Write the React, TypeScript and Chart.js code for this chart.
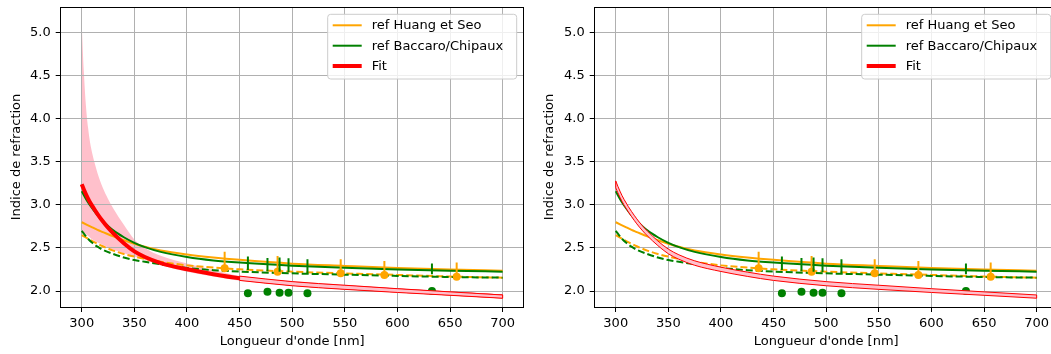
import React, { useEffect, useRef } from 'react';
import { Chart, registerables } from 'chart.js';

Chart.register(...registerables);

// ---------- axes ----------
const X_TICKS = [300, 350, 400, 450, 500, 550, 600, 650, 700];
const Y_TICKS = [2.0, 2.5, 3.0, 3.5, 4.0, 4.5, 5.0];
const X_MIN = 280;
const X_MAX = 720;
const Y_MIN = 1.814;
const Y_MAX = 5.302;

// ---------- reference curves ----------
const REF_X = [300, 305, 310, 315, 320, 330, 340, 350, 360, 375, 400, 425, 450, 500, 550, 600, 650, 700];
const HUANG_SOLID = [2.80, 2.77, 2.74, 2.71, 2.685, 2.635, 2.59, 2.55, 2.515, 2.472, 2.425, 2.39, 2.362, 2.318, 2.292, 2.268, 2.25, 2.236];
const HUANG_DASHED = [2.65, 2.615, 2.58, 2.55, 2.52, 2.47, 2.43, 2.40, 2.375, 2.34, 2.298, 2.272, 2.252, 2.225, 2.205, 2.187, 2.168, 2.155];
const BACCARO_SOLID = [3.16, 3.05, 2.96, 2.88, 2.815, 2.705, 2.625, 2.56, 2.51, 2.455, 2.395, 2.355, 2.33, 2.295, 2.27, 2.25, 2.236, 2.225];
const BACCARO_DASHED = [2.70, 2.62, 2.56, 2.515, 2.48, 2.43, 2.39, 2.36, 2.34, 2.31, 2.268, 2.242, 2.226, 2.205, 2.19, 2.175, 2.163, 2.155];

// ---------- fit ----------
const FIT_X = [300, 302, 304, 306, 308, 310, 312, 315, 320, 325, 330, 340, 350, 360, 375, 400, 425, 450, 500, 550, 600, 650, 700];
const FIT_N = [3.24, 3.18, 3.125, 3.075, 3.03, 2.99, 2.95, 2.895, 2.81, 2.735, 2.67, 2.555, 2.46, 2.395, 2.325, 2.252, 2.195, 2.148, 2.085, 2.043, 2.005, 1.97, 1.935];
const WIDE_HI = [5.10, 4.55, 4.15, 3.90, 3.72, 3.60, 3.50, 3.37, 3.20, 3.07, 2.96, 2.77, 2.60, 2.50, 2.41, 2.32, 2.245, 2.175, 2.115, 2.072, 2.032, 1.995, 1.958];
const WIDE_LO = [2.70, 2.68, 2.66, 2.64, 2.62, 2.60, 2.585, 2.565, 2.535, 2.505, 2.48, 2.44, 2.40, 2.36, 2.30, 2.225, 2.168, 2.12, 2.06, 2.018, 1.982, 1.95, 1.917];
const NARROW_HI = [3.28, 3.218, 3.161, 3.109, 3.063, 3.022, 2.981, 2.925, 2.839, 2.763, 2.698, 2.582, 2.487, 2.421, 2.351, 2.277, 2.22, 2.173, 2.109, 2.067, 2.027, 1.99, 1.954];
const NARROW_LO = [3.20, 3.142, 3.089, 3.041, 2.997, 2.958, 2.919, 2.865, 2.781, 2.707, 2.642, 2.528, 2.433, 2.369, 2.299, 2.227, 2.17, 2.123, 2.061, 2.019, 1.983, 1.95, 1.916];
const LEFT_NARROW_FROM = 450;

// ---------- measurements ----------
const HUANG_PT_X = [435.8, 486.1, 546.1, 587.6, 656.3];
const HUANG_PT_N = [2.264, 2.225, 2.205, 2.186, 2.167];
const HUANG_ERR_LO = [2.264, 2.225, 2.205, 2.186, 2.167];
const HUANG_ERR_HI = [2.457, 2.407, 2.369, 2.35, 2.33];

const BACCARO_PT_X = [457.9, 476.5, 488.0, 496.5, 514.5, 632.8];
const BACCARO_PT_N = [1.973, 1.992, 1.98, 1.98, 1.973, 2.0];
const BACCARO_ERR_LO = [2.245, 2.23, 2.225, 2.22, 2.21, 2.195];
const BACCARO_ERR_HI = [2.40, 2.385, 2.39, 2.38, 2.37, 2.32];

const LEGEND_LABELS = ['ref Huang et Seo', 'ref Baccaro/Chipaux', 'Fit'];

// ---------- style ----------
const ORANGE = '#ffa500';
const GREEN = '#008000';
const RED = '#ff0000';
const PINK = '#ffc0cb';
const GRID = '#b0b0b0';
const CLEAR = 'rgba(0,0,0,0)';
const FONT = '"DejaVu Sans", sans-serif';
const LEGEND_COLORS = [ORANGE, GREEN, RED];
const LEGEND_WIDTHS = [2, 2, 4];

Chart.defaults.font.family = FONT;
Chart.defaults.font.size = 13;
Chart.defaults.color = '#000';

const H = 354;
const AREA_TOP = 7;
const AREA_BOTTOM = 307;

const pts = (xs: number[], ys: number[]) => xs.map((x, i) => ({ x, y: ys[i] }));
const bars = (xs: number[], lo: number[], hi: number[]) =>
  xs.flatMap((x, i) => [{ x, y: lo[i] }, { x, y: hi[i] }, { x, y: null as any }]);

const line = (data: any[], color: string, width: number, extra: any = {}) => ({
  type: 'line',
  data,
  borderColor: color,
  backgroundColor: color,
  borderWidth: width,
  pointRadius: 0,
  pointHoverRadius: 0,
  fill: false,
  cubicInterpolationMode: 'monotone',
  spanGaps: false,
  ...extra,
});

const markers = (data: any[], color: string, r: number) => ({
  type: 'line',
  data,
  showLine: false,
  pointRadius: r,
  pointHoverRadius: r,
  pointBackgroundColor: color,
  pointBorderColor: color,
  pointBorderWidth: 0,
  borderColor: color,
  backgroundColor: color,
  fill: false,
});

const alignPx = (p: number) => Math.round(p - 0.5) + 0.5;

const framePlugin = {
  id: 'frameAndLegend',
  afterDatasetDraw(chart: any, args: any) {
    const ds = chart.data.datasets[args.index];
    if (!ds || !ds.gridAfter) return;
    const { ctx, chartArea: a, scales } = chart;
    ctx.save();
    ctx.strokeStyle = GRID;
    ctx.lineWidth = 1;
    ctx.beginPath();
    X_TICKS.forEach((v) => {
      const x = alignPx(scales.x.getPixelForValue(v));
      ctx.moveTo(x, a.top);
      ctx.lineTo(x, a.bottom);
    });
    Y_TICKS.forEach((v) => {
      const y = alignPx(scales.y.getPixelForValue(v));
      ctx.moveTo(a.left, y);
      ctx.lineTo(a.right, y);
    });
    ctx.stroke();
    ctx.restore();
  },
  afterDatasetsDraw(chart: any) {
    const { ctx, chartArea: a } = chart;
    ctx.save();
    ctx.strokeStyle = '#000';
    ctx.lineWidth = 1;
    const l = alignPx(a.left), r = alignPx(a.right), t = alignPx(a.top), b = alignPx(a.bottom);
    ctx.strokeRect(l, t, r - l, b - t);
    ctx.restore();
  },
  afterDraw(chart: any) {
    const { ctx, chartArea: a } = chart;
    const w = 189;
    const h = 64.7;
    const x0 = a.right - 7 - w;
    const y0 = a.top + 7.3;
    const rad = 3;
    ctx.save();
    ctx.beginPath();
    ctx.moveTo(x0 + rad, y0);
    ctx.arcTo(x0 + w, y0, x0 + w, y0 + h, rad);
    ctx.arcTo(x0 + w, y0 + h, x0, y0 + h, rad);
    ctx.arcTo(x0, y0 + h, x0, y0, rad);
    ctx.arcTo(x0, y0, x0 + w, y0, rad);
    ctx.closePath();
    ctx.fillStyle = 'rgba(255,255,255,0.8)';
    ctx.fill();
    ctx.strokeStyle = '#cccccc';
    ctx.lineWidth = 1;
    ctx.stroke();
    const rows = [11, 31.4, 51.7];
    LEGEND_LABELS.forEach((lab, i) => {
      const y = y0 + rows[i];
      ctx.beginPath();
      ctx.strokeStyle = LEGEND_COLORS[i];
      ctx.lineWidth = LEGEND_WIDTHS[i];
      ctx.moveTo(x0 + 5, y);
      ctx.lineTo(x0 + 34, y);
      ctx.stroke();
      ctx.fillStyle = '#000';
      ctx.font = '13px ' + FONT;
      ctx.textBaseline = 'middle';
      ctx.textAlign = 'left';
      ctx.fillText(lab, x0 + 44, y + 0.5);
    });
    ctx.restore();
  },
};

function buildConfig(o: { left: boolean; areaLeft: number; areaRight: number; width: number; yTitlePad: number }) {
  const list: any[] = [];
  if (o.left) {
    list.push(line(pts(FIT_X, WIDE_HI), CLEAR, 1, { fill: '+1', backgroundColor: PINK, gridAfter: true }));
    list.push(line(pts(FIT_X, WIDE_LO), CLEAR, 1));
  }
  list.push(line(pts(REF_X, HUANG_SOLID), ORANGE, 2));
  list.push(line(pts(REF_X, BACCARO_SOLID), GREEN, 2));
  list.push(line(pts(REF_X, HUANG_DASHED), ORANGE, 2, { borderDash: [7, 3] }));
  list.push(line(pts(REF_X, BACCARO_DASHED), GREEN, 2, { borderDash: [7, 3] }));
  if (o.left) {
    list.push(line(pts(FIT_X, FIT_N), RED, 4));
  }
  list.push(line(bars(HUANG_PT_X, HUANG_ERR_LO, HUANG_ERR_HI), ORANGE, 2, { cubicInterpolationMode: 'default', tension: 0 }));
  list.push(markers(pts(HUANG_PT_X, HUANG_PT_N), ORANGE, 4));
  list.push(line(bars(BACCARO_PT_X, BACCARO_ERR_LO, BACCARO_ERR_HI), GREEN, 2, { cubicInterpolationMode: 'default', tension: 0 }));
  list.push(markers(pts(BACCARO_PT_X, BACCARO_PT_N), GREEN, 4));

  const from = o.left ? LEFT_NARROW_FROM : FIT_X[0];
  const idx = FIT_X.map((x, i) => i).filter((i) => FIT_X[i] >= from);
  const nx = idx.map((i) => FIT_X[i]);
  const nHi = idx.map((i) => NARROW_HI[i]);
  const nLo = idx.map((i) => NARROW_LO[i]);
  list.push(line(pts(nx, nHi), RED, 1, { fill: '+1', backgroundColor: PINK }));
  list.push(line(pts(nx, nLo), RED, 1));
  const last = nx.length - 1;
  list.push(
    line(
      [
        { x: nx[0], y: nLo[0] },
        { x: nx[0], y: nHi[0] },
        { x: nx[0], y: null },
        { x: nx[last], y: nLo[last] },
        { x: nx[last], y: nHi[last] },
      ],
      RED,
      1,
      { cubicInterpolationMode: 'default', tension: 0 }
    )
  );

  const N = list.length;
  list.forEach((d, i) => (d.order = N - i));

  return {
    type: 'line',
    data: { datasets: list },
    plugins: [framePlugin],
    options: {
      responsive: false,
      maintainAspectRatio: false,
      animation: false,
      devicePixelRatio: 1,
      events: [],
      layout: { padding: { left: 0, top: AREA_TOP, right: o.width - o.areaRight, bottom: 0 } },
      plugins: { legend: { display: false }, tooltip: { enabled: false }, title: { display: false } },
      scales: {
        x: {
          type: 'linear',
          min: X_MIN,
          max: X_MAX,
          afterBuildTicks: (s: any) => {
            s.ticks = X_TICKS.map((v) => ({ value: v }));
          },
          afterFit: (s: any) => {
            s.height = H - AREA_BOTTOM;
            s.paddingLeft = 0;
            s.paddingRight = 0;
          },
          ticks: { color: '#000', padding: 4, maxRotation: 0, autoSkip: false, font: { size: 13, family: FONT }, callback: (v: any) => String(Math.round(v)) },
          grid: { color: GRID, lineWidth: 1, tickColor: '#000', tickLength: 5, drawOnChartArea: true },
          border: { display: false },
          title: { display: true, text: "Longueur d'onde [nm]", color: '#000', font: { size: 13, family: FONT }, padding: { top: 0, bottom: 4.2 } },
        },
        y: {
          type: 'linear',
          min: Y_MIN,
          max: Y_MAX,
          afterBuildTicks: (s: any) => {
            s.ticks = Y_TICKS.map((v) => ({ value: v }));
          },
          afterFit: (s: any) => {
            s.width = o.areaLeft;
            s.paddingTop = 0;
            s.paddingBottom = 0;
          },
          ticks: { color: '#000', padding: 5, autoSkip: false, font: { size: 13, family: FONT }, callback: (v: any) => Number(v).toFixed(1) },
          grid: { color: GRID, lineWidth: 1, tickColor: '#000', tickLength: 5, drawOnChartArea: true },
          border: { display: false },
          title: { display: true, text: 'Indice de refraction', color: '#000', font: { size: 13, family: FONT }, padding: { top: o.yTitlePad, bottom: 0 } },
        },
      },
    },
  } as any;
}

export default function App() {
  const leftRef = useRef<HTMLCanvasElement>(null);
  const rightRef = useRef<HTMLCanvasElement>(null);

  useEffect(() => {
    const c1 = new Chart(leftRef.current as HTMLCanvasElement, buildConfig({ left: true, areaLeft: 60.7, areaRight: 523.7, width: 530, yTitlePad: 9.2 }));
    const c2 = new Chart(rightRef.current as HTMLCanvasElement, buildConfig({ left: false, areaLeft: 64.7, areaRight: 527.7, width: 535, yTitlePad: 12.2 }));
    return () => {
      c1.destroy();
      c2.destroy();
    };
  }, []);

  return (
    <div style={{ position: 'fixed', left: 0, top: 0, width: 1051, height: 354, overflow: 'hidden', background: '#fff' }}>
      <canvas ref={leftRef} width={530} height={354} style={{ position: 'absolute', left: 0, top: 0, width: 530, height: 354 }} />
      <canvas ref={rightRef} width={535} height={354} style={{ position: 'absolute', left: 530, top: 0, width: 535, height: 354 }} />
    </div>
  );
}
